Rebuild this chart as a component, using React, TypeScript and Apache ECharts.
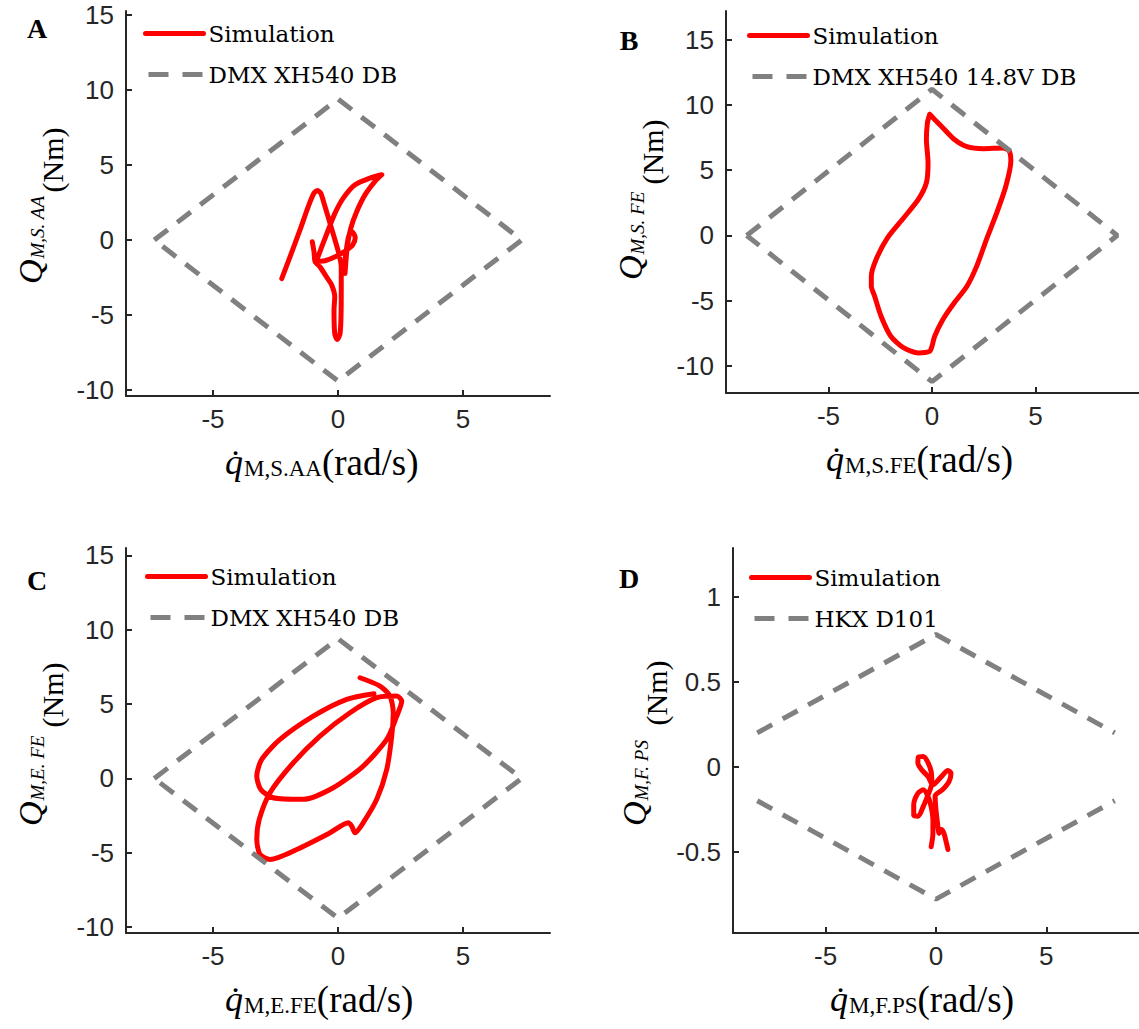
import React, { useEffect, useRef } from "react";
import * as echarts from "echarts";

// ---------- data ----------
const simA: number[][] = [
  [-2.25, -2.57], [-1.92, -1.12], [-1.52, 0.67], [-1.19, 2.23], [-0.96, 3.13], [-0.83, 3.3], [-0.69, 3.13],
  [-0.52, 2.23], [-0.32, 1.12], [-0.12, 0], [0.05, -1.0], [0.13, -1.79], [0.13, -3.35], [0.12, -5.13],
  [0.08, -6.25], [-0.03, -6.63], [-0.13, -6.25], [-0.16, -4.69], [-0.13, -3.79], [-0.25, -3.01],
  [-0.48, -2.41], [-0.72, -1.79], [-0.91, -1.47], [-0.52, -1.38], [-0.05, -1.07], [0.35, -0.67],
  [0.59, -0.33], [0.69, 0.18], [0.56, 0.56], [0.43, 0.27], [0.35, -0.45], [0.29, -1.34], [0.28, -2.23],
  [0.31, -1.56], [0.37, -0.45], [0.51, 0.78], [0.75, 1.9], [1.08, 3.01], [1.48, 3.91], [1.75, 4.35],
  [1.28, 4.13], [0.68, 3.68], [0.21, 2.79], [-0.12, 1.79], [-0.39, 0.67], [-0.65, -0.45], [-0.91, -1.47],
  [-0.96, -0.78], [-1.03, -0.11],
];
const simB: number[][] = [
  [-0.11, 9.28], [0.44, 8.39], [1.07, 7.37], [1.69, 6.8], [2.48, 6.65], [3.42, 6.7], [3.73, 6.47],
  [3.81, 5.7], [3.57, 3.79], [3.1, 1.61], [2.63, -0.31], [2.16, -2.35], [1.69, -3.89], [1.07, -5.17],
  [0.52, -6.45], [0.13, -7.72], [0.0, -8.49], [-0.11, -8.87], [-0.66, -9.0], [-1.36, -8.62],
  [-1.99, -7.72], [-2.46, -6.19], [-2.77, -4.65], [-2.93, -3.89], [-2.93, -3.12], [-2.7, -1.84],
  [-2.15, -0.18], [-1.36, 1.36], [-0.66, 2.76], [-0.27, 4.04], [-0.19, 5.58], [-0.27, 7.37],
  [-0.22, 8.64], [-0.11, 9.28],
];
const simC: number[][] = [
  [0.88, 6.77], [1.68, 6.21], [2.08, 5.54], [2.21, 4.42], [2.15, 2.85], [1.95, 0.61], [1.55, -1.41],
  [1.01, -2.98], [0.68, -3.66], [0.55, -3.21], [0.41, -2.98], [-0.32, -3.66], [-1.65, -4.78],
  [-2.72, -5.45], [-3.12, -5.11], [-3.25, -4.1], [-3.15, -2.76], [-2.72, -0.96], [-1.79, 1.05],
  [-0.72, 2.85], [0.48, 4.42], [1.55, 5.43], [2.35, 5.54], [2.55, 5.2], [2.35, 4.19], [1.95, 2.62],
  [1.01, 0.83], [-0.19, -0.63], [-1.39, -1.41], [-2.59, -1.3], [-3.09, -0.74], [-3.25, 0.16],
  [-3.05, 1.28], [-2.32, 2.62], [-0.99, 4.19], [0.35, 5.32], [1.44, 5.7],
];
const simD: number[][] = [
  [-0.22, -0.472], [-0.14, -0.393], [-0.14, -0.314], [-0.22, -0.235], [-0.36, -0.176], [-0.58, -0.136],
  [-0.82, -0.156], [-1.01, -0.225], [-1.01, -0.285], [-0.8, -0.291], [-0.58, -0.235], [-0.36, -0.166],
  [-0.19, -0.097], [-0.22, -0.028], [-0.39, 0.032], [-0.58, 0.061], [-0.8, 0.057], [-0.82, 0.022],
  [-0.65, -0.018], [-0.36, -0.057], [-0.14, -0.107], [0.22, -0.061], [0.54, -0.022], [0.68, -0.038],
  [0.59, -0.087], [0.29, -0.136], [-0.04, -0.172], [0.0, -0.255], [0.07, -0.334], [0.14, -0.393],
  [0.25, -0.37], [0.36, -0.393], [0.48, -0.453], [0.54, -0.488],
];
const dbA: number[][] = [[-7.35, 0], [0, 9.4], [7.35, 0], [0, -9.4], [-7.35, 0]];
const dbB: number[][] = [[-8.95, 0], [0, 11.2], [8.95, 0], [0, -11.2], [-8.95, 0]];
const dbC: number[][] = [[-7.35, 0], [0, 9.4], [7.35, 0], [0, -9.4], [-7.35, 0]];
const dbDUpper: number[][] = [[-8.1, 0.2], [0, 0.78], [8.1, 0.2]];
const dbDLower: number[][] = [[-8.1, -0.2], [0, -0.78], [8.1, -0.2]];

const xTicks = [-5, 0, 5];
const yTicks = [-10, -5, 0, 5, 10, 15];
const yTicksD = [-0.5, 0, 0.5, 1];

const simName = "Simulation";
const dbNames = ["DMX XH540 DB", "DMX XH540 14.8V DB", "DMX XH540 DB", "HKX D101"];
const panelLetters = ["A", "B", "C", "D"];
const xSubs = ["M,S.AA", "M,S.FE", "M,E.FE", "M,F.PS"];
const ySubs = ["M,S. AA", "M,S. FE", "M,E. FE", "M,F. PS"];

// ---------- styling ----------
const AX = "#262626";
const RED = "#ff0000";
const GRAY = "#808080";
const DASH = [17, 12];

const grids = [
  { left: 126, top: 11, width: 424, height: 385 },
  { left: 726, top: 11, width: 424, height: 382 },
  { left: 126, top: 548, width: 424, height: 385 },
  { left: 733, top: 548, width: 424, height: 385 },
];
const xRanges = [[-8.48, 8.48], [-9.95, 10], [-8.48, 8.48], [-9.2, 9.2]];
const yRanges = [[-10.4, 15.27], [-12.07, 17.2], [-10.4, 15.5], [-0.98, 1.29]];

function mkAxis(kind: "x" | "y", i: number, ticks: number[], range: number[]) {
  return {
    type: "value",
    gridIndex: i,
    min: range[0],
    max: range[1],
    position: kind === "x" ? "bottom" : "left",
    axisLine: { show: true, onZero: false, lineStyle: { color: AX, width: 2 } },
    axisTick: { show: true, inside: true, length: 6, customValues: ticks, lineStyle: { color: AX, width: 2 } },
    axisLabel: {
      customValues: ticks,
      color: AX,
      fontFamily: "Liberation Sans",
      fontSize: 26,
      margin: kind === "x" ? 10 : 12,
      formatter: (v: number) => String(v),
    },
    splitLine: { show: false },
  };
}

export default function App() {
  const ref = useRef<HTMLDivElement>(null);
  useEffect(() => {
    document.body.style.margin = "0";
    const chart = echarts.init(ref.current!, null, { renderer: "svg" });
    const sims = [simA, simB, simC, simD];
    const series: any[] = [];
    for (let i = 0; i < 4; i++) {
      series.push({
        type: "line",
        name: simName,
        xAxisIndex: i,
        yAxisIndex: i,
        data: sims[i],
        symbol: "none",
        showSymbol: false,
        smooth: 0.25,
        lineStyle: { color: RED, width: 5, cap: "round", join: "round" },
        itemStyle: { color: RED },
        z: 2,
      });
    }
    const dbs = [[dbA], [dbB], [dbC], [dbDUpper, dbDLower]];
    for (let i = 0; i < 4; i++) {
      for (const d of dbs[i]) {
        series.push({
          type: "line",
          name: dbNames[i],
          xAxisIndex: i,
          yAxisIndex: i,
          data: d,
          symbol: "none",
          showSymbol: false,
          lineStyle: { color: GRAY, width: 5, type: DASH },
          itemStyle: { color: GRAY },
          z: 3,
        });
      }
    }
    const legendPos = [
      { left: 143, top: 22 },
      { left: 747, top: 24 },
      { left: 145, top: 565 },
      { left: 749, top: 566 },
    ];
    const hidden = { opacity: 0, color: "rgba(0,0,0,0)", borderColor: "rgba(0,0,0,0)", borderWidth: 0 };
    const legends = legendPos.map((p, i) => ({
      left: p.left,
      top: p.top,
      padding: 0,
      orient: "vertical",
      itemWidth: 58,
      itemHeight: 20,
      itemGap: 18,
      selectedMode: false,
      textStyle: { fontFamily: "DejaVu Serif", fontSize: 23, color: "#000", lineHeight: 20 },
      data: [
        { name: simName, itemStyle: hidden, lineStyle: { width: 5, color: RED, type: "solid" } },
        { name: dbNames[i], itemStyle: hidden, lineStyle: { width: 5, color: GRAY, type: [20, 14], dashOffset: 31 } },
      ],
    }));

    const graphics: any[] = [];
    const letterPos = [[37, 28], [629, 40], [37, 580], [629, 578]];
    const xLabelPos = [[225, 462], [826, 459], [225, 999], [830, 999]];
    const qX = [30, 630, 30, 634];
    const qBottom = [284, 280, 826, 826];
    const nmX = [52, 652, 52, 656];
    const nmY = [160, 152, 695, 693];
    for (let i = 0; i < 4; i++) {
      graphics.push({
        type: "text",
        x: letterPos[i][0],
        y: letterPos[i][1],
        style: {
          text: panelLetters[i],
          font: "bold 28px 'Liberation Serif'",
          fill: "#000",
          align: "center",
          verticalAlign: "middle",
        },
      });
      graphics.push({
        type: "text",
        x: xLabelPos[i][0],
        y: xLabelPos[i][1],
        style: {
          text: "{q|q\u0307}{s|" + xSubs[i] + "}{u|(rad/s)}",
          align: "left",
          verticalAlign: "middle",
          fill: "#000",
          rich: {
            q: { fontFamily: "Liberation Serif", fontStyle: "italic", fontSize: 36, lineHeight: 36, verticalAlign: "top" },
            s: { fontFamily: "Liberation Serif", fontSize: 23, lineHeight: 23, verticalAlign: "bottom", padding: [16, 0, 0, 1] },
            u: { fontFamily: "Liberation Serif", fontSize: 37, lineHeight: 36, verticalAlign: "top" },
          },
        },
      });
      graphics.push({
        type: "text",
        x: qX[i],
        y: qBottom[i],
        rotation: Math.PI / 2,
        style: {
          text: "{q|Q}{s|" + ySubs[i] + "}",
          align: "left",
          verticalAlign: "middle",
          fill: "#000",
          rich: {
            q: { fontFamily: "Liberation Serif", fontStyle: "italic", fontSize: 34, lineHeight: 34, verticalAlign: "top" },
            s: { fontFamily: "Liberation Serif", fontStyle: "italic", fontSize: 19, lineHeight: 19, verticalAlign: "bottom", padding: [17, 0, 0, 1] },
          },
        },
      });
      graphics.push({
        type: "text",
        x: nmX[i],
        y: nmY[i],
        rotation: Math.PI / 2,
        style: {
          text: "(Nm)",
          font: "30px 'Liberation Serif'",
          fill: "#000",
          align: "center",
          verticalAlign: "middle",
        },
      });
    }

    chart.setOption({
      animation: false,
      backgroundColor: "#ffffff",
      grid: grids.map((g) => ({ ...g, containLabel: false })),
      xAxis: grids.map((_, i) => mkAxis("x", i, xTicks, xRanges[i])),
      yAxis: grids.map((_, i) => mkAxis("y", i, i === 3 ? yTicksD : yTicks, yRanges[i])),
      legend: legends,
      series,
      graphic: graphics,
    });
    return () => chart.dispose();
  }, []);
  return <div ref={ref} style={{ width: 1139, height: 1029 }} />;
}
